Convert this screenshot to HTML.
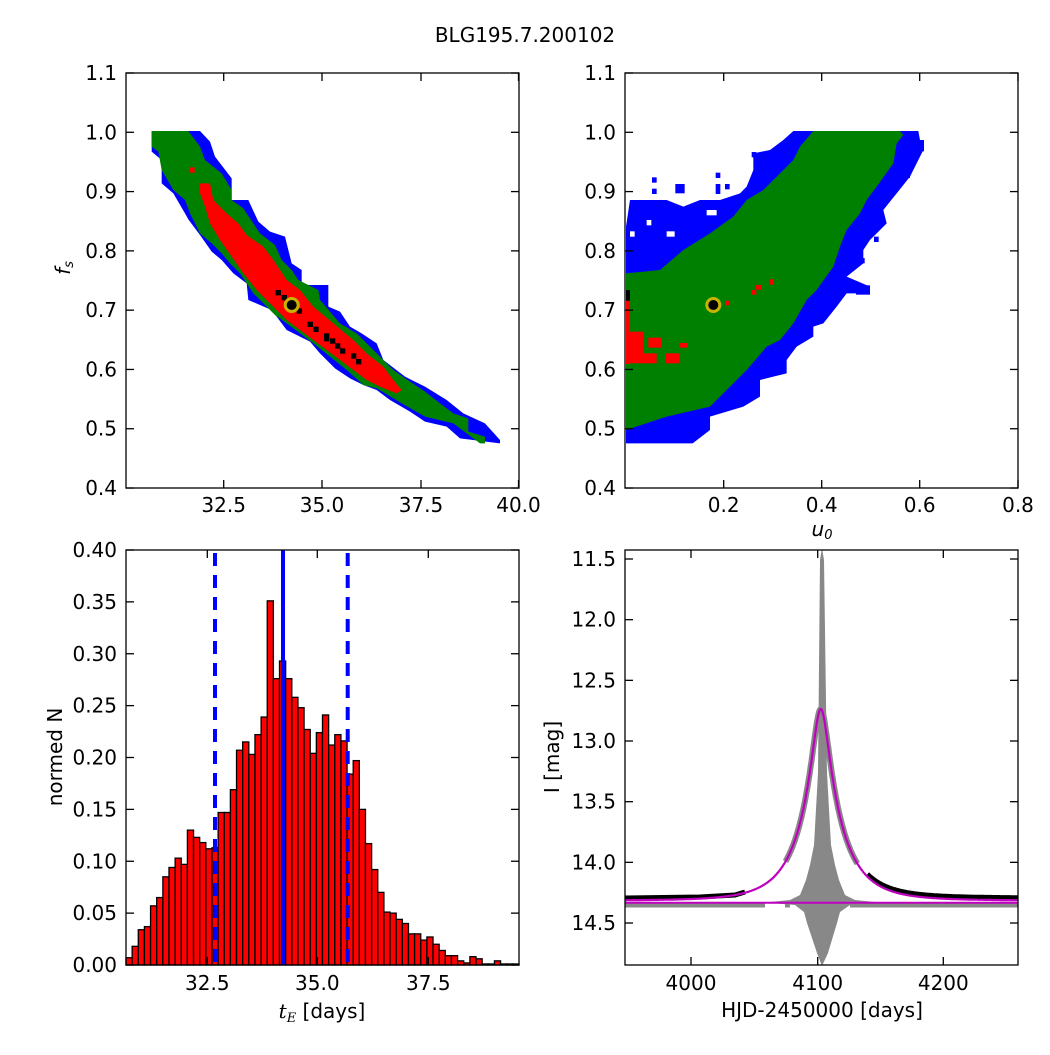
<!DOCTYPE html>
<html><head><meta charset="utf-8"><style>
html,body{margin:0;padding:0;background:#fff}
svg text{font-family:"DejaVu Sans","Liberation Sans",sans-serif;font-size:20px;fill:#000}
</style></head><body>
<svg id="s" width="1050" height="1050" xmlns="http://www.w3.org/2000/svg">
<rect width="1050" height="1050" fill="#fff"/>
<text x="525" y="42" text-anchor="middle" font-size="20.5">BLG195.7.200102</text>

<g transform="translate(100,60) scale(0.33333)">
<polygon fill="#0000ff" points="155,213 300,213 330,245 345,290 395,355 395,420 445,420 475,485 510,515 555,530 575,610 605,630 605,675 685,675 685,740 720,755 750,800 785,820 830,850 850,900 915,950 975,980 1040,1020 1090,1060 1155,1090 1200,1140 1200,1150 1080,1135 1040,1100 975,1085 930,1055 870,1020 830,990 790,975 750,955 705,925 660,880 630,845 560,810 515,750 480,735 445,720 440,670 400,640 365,600 335,575 300,525 265,478 255,460 220,400 185,370 185,300 155,275"/>
<polygon fill="#008000" points="155,213 265,213 300,260 315,300 365,340 395,390 395,420 430,445 480,520 525,555 545,600 575,630 595,660 655,690 660,720 690,755 720,790 770,820 800,850 850,900 880,930 930,965 975,995 1020,1030 1060,1060 1105,1075 1105,1115 1155,1130 1155,1150 1140,1150 1060,1090 975,1070 905,1030 830,985 790,975 740,930 690,890 640,850 600,820 560,790 525,765 500,740 460,700 420,640 390,610 365,580 335,550 300,520 270,460 255,420 220,390 185,330 175,275 155,260"/>
<polygon fill="#ff0000" points="300,370 330,370 340,420 380,460 415,490 440,525 490,560 520,600 560,660 600,690 640,740 700,790 760,840 800,880 850,920 880,960 905,990 890,1000 840,980 800,960 760,930 720,900 680,870 640,840 600,810 560,780 510,730 470,690 430,640 395,590 360,540 330,490 315,440 300,400"/>
<rect x="268" y="322" width="16" height="16" fill="#ff0000"/>
<g fill="#000"><rect x="527" y="690" width="16" height="16"/><rect x="545" y="705" width="16" height="16"/><rect x="590" y="745" width="16" height="16"/><rect x="623" y="785" width="16" height="16"/><rect x="640" y="800" width="16" height="16"/><rect x="672" y="820" width="16" height="24"/><rect x="690" y="835" width="16" height="16"/><rect x="705" y="850" width="16" height="16"/><rect x="720" y="865" width="16" height="16"/><rect x="753" y="880" width="16" height="16"/><rect x="768" y="897" width="16" height="16"/></g>
</g>
<circle cx="291.7" cy="305" r="6.5" fill="#000" stroke="#c8b400" stroke-width="3"/>

<g transform="translate(600,60) scale(0.33333)">
<polygon fill="#0000ff" points="78,1150 278,1150 330,1110 330,1070 430,1040 480,1010 480,960 520,950 560,940 560,900 590,860 640,830 640,800 670,790 710,740 740,700 810,700 810,680 740,650 790,610 790,570 810,540 860,490 850,450 890,400 930,350 945,320 970,270 960,240 955,213 580,213 550,240 510,270 460,280 460,330 440,380 420,400 360,420 300,420 250,440 200,420 160,420 90,420 78,500"/>
<polygon fill="#008000" points="78,1110 200,1070 330,1040 380,990 440,930 500,860 540,840 580,790 620,720 650,690 700,620 720,560 740,510 780,460 800,420 830,380 880,310 890,250 910,225 900,213 640,213 600,260 580,300 540,340 490,390 440,420 400,470 330,520 250,570 180,630 78,640"/>
<g fill="#0000ff"><rect x="156" y="352" width="14" height="16"/><rect x="156" y="386" width="14" height="16"/><rect x="226" y="372" width="28" height="28"/><rect x="347" y="338" width="14" height="16"/><rect x="347" y="372" width="14" height="30"/><rect x="375" y="372" width="14" height="16"/><rect x="455" y="276" width="14" height="16"/><rect x="483" y="276" width="14" height="16"/><rect x="725" y="642" width="14" height="16"/><rect x="780" y="594" width="14" height="16"/><rect x="822" y="530" width="14" height="16"/><rect x="768" y="676" width="42" height="28"/><rect x="916" y="338" width="14" height="16"/><rect x="835" y="434" width="14" height="16"/><rect x="958" y="240" width="14" height="34"/><rect x="78" y="500" width="30" height="30"/></g>
<g fill="#ffffff"><rect x="200" y="514" width="24" height="16"/><rect x="90" y="514" width="14" height="16"/><rect x="140" y="480" width="14" height="16"/><rect x="320" y="450" width="30" height="16"/></g>
<g fill="#ff0000"><rect x="78" y="722" width="12" height="190"/><rect x="90" y="815" width="40" height="95"/><rect x="130" y="880" width="40" height="30"/><rect x="145" y="833" width="40" height="30"/><rect x="238" y="849" width="26" height="14"/><rect x="198" y="880" width="40" height="30"/><rect x="375" y="722" width="12" height="14"/><rect x="455" y="690" width="14" height="14"/><rect x="468" y="675" width="16" height="14"/><rect x="508" y="658" width="14" height="16"/></g>
<rect x="78" y="690" width="12" height="32" fill="#000"/>
</g>
<circle cx="713.3" cy="305" r="6.5" fill="#000" stroke="#c8b400" stroke-width="3"/>

<g id="br"></g>
<g id="hist"></g>
<g id="axes" fill="none" stroke="#000" stroke-width="1.3"></g>
<g id="labels"></g>

<text transform="translate(70,268) rotate(-90)" text-anchor="middle" font-style="italic" font-family="DejaVu Serif,serif" font-size="19">f<tspan font-size="13" dy="3">s</tspan></text>
<text x="822" y="536" text-anchor="middle" font-style="italic" font-family="DejaVu Serif,serif" font-size="19">u<tspan font-size="13" dy="3">0</tspan></text>
<text transform="translate(62,757) rotate(-90)" text-anchor="middle">normed N</text>
<text transform="translate(559,757) rotate(-90)" text-anchor="middle">I [mag]</text>
<text x="322" y="1018" text-anchor="middle"><tspan font-style="italic" font-family="DejaVu Serif,serif">t</tspan><tspan font-style="italic" font-family="DejaVu Serif,serif" font-size="13" dy="4">E</tspan><tspan dy="-4"> [days]</tspan></text>
<text x="822" y="1017" text-anchor="middle">HJD-2450000 [days]</text>
</svg>
<script>
var NS="http://www.w3.org/2000/svg";
function el(p,t,a){var e=document.createElementNS(NS,t);for(var k in a)e.setAttribute(k,a[k]);p.appendChild(e);return e;}
var h=[0.007,0.018,0.034,0.037,0.057,0.065,0.085,0.094,0.103,0.097,0.130,0.123,0.118,0.112,0.113,0.147,0.147,0.169,0.207,0.215,0.203,0.222,0.239,0.351,0.276,0.293,0.276,0.258,0.248,0.227,0.204,0.224,0.241,0.212,0.222,0.216,0.184,0.197,0.150,0.117,0.092,0.070,0.051,0.050,0.044,0.040,0.030,0.030,0.024,0.027,0.020,0.014,0.009,0.009,0.004,0.002,0.008,0.006,0.001,0.001,0.004,0.001,0.001,0.001];
var hg=document.getElementById("hist");var bw=393/h.length;
for(var i=0;i<h.length;i++){var y=965-h[i]*1037.5;el(hg,"rect",{x:126+i*bw,y:y,width:bw,height:965-y,fill:"#ff0000",stroke:"#000","stroke-width":1.3});}
el(hg,"line",{x1:283,y1:550,x2:283,y2:965,stroke:"#0000ff","stroke-width":4});
el(hg,"line",{x1:215,y1:553,x2:215,y2:965,stroke:"#0000ff","stroke-width":4,"stroke-dasharray":"13,9"});
el(hg,"line",{x1:347.7,y1:553,x2:347.7,y2:965,stroke:"#0000ff","stroke-width":4,"stroke-dasharray":"13,9"});
var br=document.getElementById("br");
function X(t){return 625+(t-3947.6)*1.26;}function Y(m){return 550+(m-11.43)*121.3;}
function mag(t,u0,te,fs,t0){var tau=(t-t0)/te,u=Math.sqrt(u0*u0+tau*tau);var A=(u*u+2)/(u*Math.sqrt(u*u+4));return 14.32-2.5*Math.log10(fs*A+1-fs);}
var cp=el(br,"clipPath",{id:"c4"});el(cp,"rect",{x:625,y:550,width:393,height:415});
var g=el(br,"g",{"clip-path":"url(#c4)"});
el(g,"path",{d:"M625,905 L750,905 M765,905 L750,905 M785,905 L790,905 M850,905 L1018,905",stroke:"#888","stroke-width":5,fill:"none"});
var pts=[];for(var t=4075;t<=4132;t+=0.5){pts.push(X(t).toFixed(1)+","+Y(mag(t,0.18,34.2,0.71,4103)).toFixed(1));}
el(g,"polyline",{points:pts.join(" "),stroke:"#888","stroke-width":6,fill:"none","stroke-linejoin":"round"});
el(g,"polygon",{fill:"#888",points:"770,902 790,900 800,895 806,880 810,865 814,845 818,773 820,560 822,548 824,560 827,773 831,845 835,865 839,880 845,895 855,900 875,902"});
el(g,"polygon",{fill:"#888",points:"770,903 875,903 850,905 840,912 837,923 828,953 822,966 817,953 807,923 804,912 795,905"});
el(g,"path",{d:"M625,898 L700,897 L735,895 L745,892",stroke:"#000","stroke-width":5,fill:"none"});
var bp=[];for(var t=4140;t<=4262;t+=0.5){bp.push(X(t).toFixed(1)+","+(Y(mag(t,0.18,34.2,0.71,4103))-2.5).toFixed(1));}
el(g,"polyline",{points:bp.join(" "),stroke:"#000","stroke-width":5,fill:"none"});
el(g,"line",{x1:625,y1:902.7,x2:1018,y2:902.7,stroke:"#bf00bf","stroke-width":2});
var mp=[];for(var t=3945;t<=4262;t+=0.5){mp.push(X(t).toFixed(1)+","+Y(mag(t,0.18,34.2,0.71,4103)).toFixed(1));}
el(g,"polyline",{points:mp.join(" "),stroke:"#bf00bf","stroke-width":2.2,fill:"none"});
var ax=document.getElementById("axes"),lb=document.getElementById("labels");
function frame(x0,y0){el(ax,"rect",{x:x0,y:y0,width:393,height:415});}
function xt(x,y0,lab,ly){el(ax,"line",{x1:x,y1:y0,x2:x,y2:y0+8});el(ax,"line",{x1:x,y1:y0+415,x2:x,y2:y0+407});var t=el(lb,"text",{x:x,y:ly,"text-anchor":"middle"});t.textContent=lab;}
function yt(x0,y,lab){el(ax,"line",{x1:x0,y1:y,x2:x0+8,y2:y});el(ax,"line",{x1:x0+393,y1:y,x2:x0+385,y2:y});var t=el(lb,"text",{x:x0-9,y:y+7,"text-anchor":"end"});t.textContent=lab;}
frame(126,73);frame(625,73);frame(126,550);frame(625,550);
var xl=["32.5","35.0","37.5","40.0"],xp=[223.7,322,421,518.5];for(var i=0;i<4;i++)xt(xp[i],73,xl[i],512);
var ul=["0.2","0.4","0.6","0.8"],up=[723.7,821.7,919.7,1018];for(var i=0;i<4;i++)xt(up[i],73,ul[i],512);
var fl=["1.1","1.0","0.9","0.8","0.7","0.6","0.5","0.4"];for(var i=0;i<8;i++){yt(126,73+i*59.29,fl[i]);yt(625,73+i*59.29,fl[i]);}
var tl=["32.5","35.0","37.5"],tp=[207.3,317.3,428.3];for(var i=0;i<3;i++)xt(tp[i],550,tl[i],990);
for(var i=0;i<=8;i++)yt(126,965-i*51.875,(i*0.05).toFixed(2));
var hl=["4000","4100","4200"],hp=[691,817.7,943.3];for(var i=0;i<3;i++)xt(hp[i],550,hl[i],990);
var ml=["11.5","12.0","12.5","13.0","13.5","14.0","14.5"];for(var i=0;i<7;i++)yt(625,559+i*60.67,ml[i]);
</script>
</body></html>
